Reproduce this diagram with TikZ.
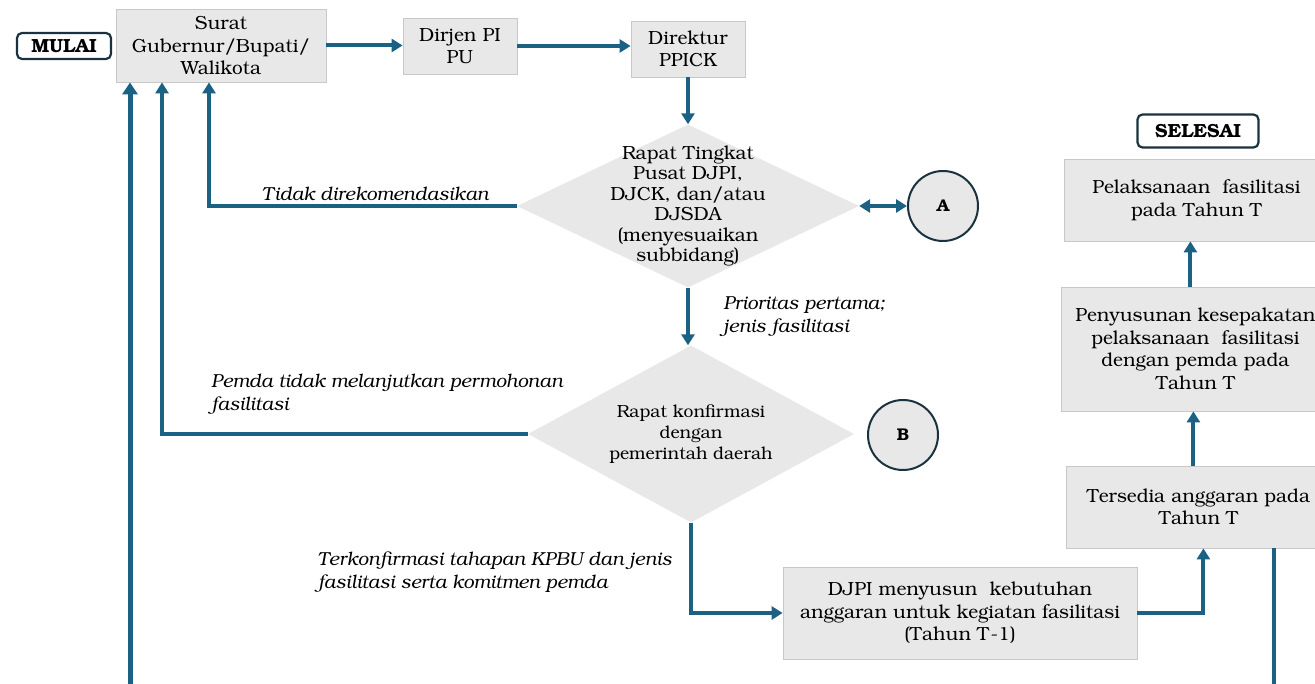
\documentclass[tikz,border=0pt]{standalone}
\usepackage[T1]{fontenc}
\usepackage{bookman}
\usepackage{tikz}
\usetikzlibrary{arrows.meta,shapes.geometric,calc,positioning}
\definecolor{alur}{RGB}{27,97,132}
\definecolor{kotak}{RGB}{232,232,232}
\definecolor{garis}{RGB}{200,200,200}
\definecolor{tepi}{RGB}{25,50,62}

\begin{document}
\begin{tikzpicture}[x=1pt,y=-1pt,
  proses/.style={draw=garis, fill=kotak, line width=0.8pt, align=center, inner sep=2pt, font=\fontsize{19}{22.5}\selectfont},
  ujung/.style={draw=tepi, line width=2.2pt, rounded corners=5pt, font=\bfseries\fontsize{19}{21}\selectfont, inner sep=3pt},
  keputusan/.style={diamond, fill=kotak, draw=none, inner sep=0pt},
  isi/.style={align=center, font=\fontsize{19}{20.5}\selectfont},
  titik/.style={circle, draw=tepi, fill=kotak, line width=2pt, minimum size=70pt, font=\bfseries\fontsize{17}{20}\selectfont},
  catatan/.style={align=left, font=\itshape\fontsize{18.8}{23}\selectfont},
  panah/.style={draw=alur, line width=4pt, -{Triangle[width=13pt,length=11pt]}},
  panahdua/.style={draw=alur, line width=4pt, {Triangle[width=13pt,length=11pt]}-{Triangle[width=13pt,length=11pt]}},
  alurgaris/.style={draw=alur, line width=4pt}]
\useasboundingbox (0,0) rectangle (1315,684);

% kotak proses
\node[ujung, minimum width=94pt, minimum height=26pt] (mulai) at (64,46) {MULAI};
\node[proses, minimum width=210pt, minimum height=73pt] (surat) at (221,45.5) {Surat\\Gubernur/Bupati/\\Walikota};
\node[proses, minimum width=114pt, minimum height=56pt] (dirjen) at (460,46) {Dirjen PI\\PU};
\node[proses, minimum width=114pt, minimum height=56pt] (direktur) at (688,49) {Direktur\\PPICK};
\node[keputusan, minimum width=342pt, minimum height=163pt,
  label={[isi]center:Rapat Tingkat\\Pusat DJPI,\\DJCK, dan/atau\\DJSDA\\(menyesuaikan\\subbidang)}] (rapat) at (688,206) {};
\node[titik] (a) at (943,206) {A};
\node[keputusan, minimum width=326pt, minimum height=177pt,
  label={[isi, font=\fontsize{17.5}{21}\selectfont]center:Rapat konfirmasi\\dengan\\pemerintah daerah}] (konfirmasi) at (691,434) {};
\node[titik] (b) at (903,435) {B};
\node[proses, minimum width=354pt, minimum height=92pt] (djpi) at (960,613) {DJPI menyusun~ kebutuhan\\anggaran untuk kegiatan fasilitasi\\(Tahun T-1)};
\node[proses, anchor=west, minimum width=264pt, minimum height=82pt] (tersedia) at (1066,507) {Tersedia anggaran pada\\Tahun T};
\node[proses, anchor=west, minimum width=268pt, minimum height=124pt] (penyusunan) at (1061,349) {Penyusunan kesepakatan\\pelaksanaan~ fasilitasi\\dengan pemda pada\\Tahun T};
\node[proses, anchor=west, minimum width=264pt, minimum height=82pt] (pelaksanaan) at (1064,200) {Pelaksanaan~ fasilitasi\\pada Tahun T};
\node[ujung, minimum width=121pt, minimum height=33pt] (selesai) at (1198,131) {SELESAI};

% alur
\coordinate (bawahkiri) at (130,690);
\coordinate (bawahkanan) at (1274,690);
\draw[panah] (surat.east) -- (surat.east -| dirjen.west);
\draw[panah] (dirjen.east) -- (dirjen.east -| direktur.west);
\draw[panah] (direktur.south) -- (rapat.north);
\draw[panahdua] (rapat.east) -- (a.west);
\draw[panah] (rapat.west) -| node[catatan, above, pos=0.23] {Tidak direkomendasikan} ([xshift=-12pt]surat.south);
\draw[panah] (rapat.south) -- node[catatan, anchor=west, xshift=30pt] {Prioritas pertama;\\jenis fasilitasi} (rapat.south |- konfirmasi.north);
\draw[panah] (konfirmasi.west) -| node[catatan, anchor=south west, pos=0.44, yshift=14pt] {Pemda tidak melanjutkan permohonan\\fasilitasi} ([xshift=-59pt]surat.south);
\draw[panah, line width=5pt, -{Triangle[width=15pt,length=12pt]}] (bawahkiri) -- (surat.south -| bawahkiri);
\draw[panah] (konfirmasi.south) |- (djpi.west);
\node[catatan, anchor=west] (konfirmlabel) at (314,572) {Terkonfirmasi tahapan KPBU dan jenis\\fasilitasi serta komitmen pemda};
\draw[panah] (djpi.east) -| ([xshift=5pt]tersedia.south);
\draw[alurgaris] (tersedia.south -| bawahkanan) -- (bawahkanan);
\draw[panah] ([xshift=-5pt]tersedia.north) -- ([xshift=-5pt]tersedia.north |- penyusunan.south);
\draw[panah] ([xshift=-5pt]penyusunan.north) -- ([xshift=-5pt]penyusunan.north |- pelaksanaan.south);
\end{tikzpicture}
\end{document}
